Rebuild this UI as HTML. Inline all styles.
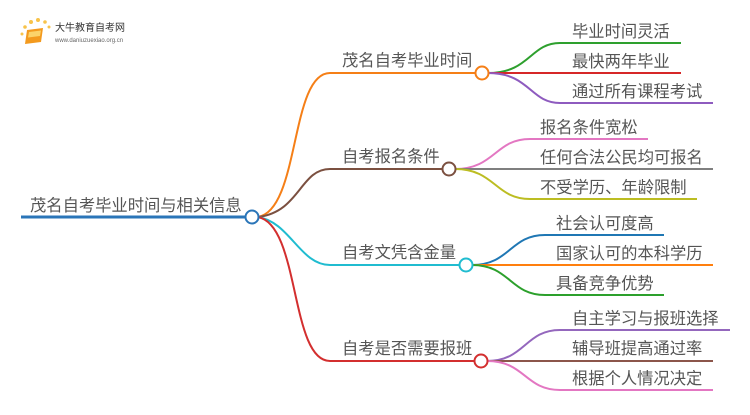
<!DOCTYPE html>
<html><head><meta charset="utf-8"><style>
body{margin:0;width:750px;height:410px;background:#fff;overflow:hidden}
svg text{font-family:"Liberation Sans","Noto Sans CJK SC",sans-serif;fill:#555}
</style></head><body>
<svg width="750" height="410" viewBox="0 0 750 410" xmlns="http://www.w3.org/2000/svg">
<!-- logo -->
<g>
<circle cx="22" cy="34" r="1.5" fill="#f8c34a"/><circle cx="25" cy="27" r="1.8" fill="#f8c34a"/><circle cx="31" cy="22" r="2" fill="#f8c34a"/><circle cx="38" cy="20" r="2" fill="#f8c34a"/><circle cx="45" cy="22" r="1.8" fill="#f8c34a"/><circle cx="49" cy="27" r="1.5" fill="#f8c34a"/>
<path d="M27 30 L43 28 L41 42 L25 44 Z" fill="#f39a1e"/>
<path d="M29 32 L41 30.5 L40 36 L28 37.5Z" fill="#fbd36a"/>
<text x="55" y="31" font-size="10" style="fill:#333">大牛教育自考网</text>
<text x="55" y="42" font-size="6" style="fill:#666">www.daniuzuexiao.org.cn</text>
</g>
<g fill="none" stroke-width="2">
<line x1="21" y1="217" x2="246" y2="217" stroke="#2a75b8" stroke-width="3"/>
<path d="M258 217 C300 210 290 73 330 73 L476 73" stroke="#f57f17"/>
<path d="M258 217 C300 212 300 169 330 169 L443 169" stroke="#7b5040"/>
<path d="M258 217 C290 222 300 265 330 265 L460 265" stroke="#20bcd0"/>
<path d="M258 217 C300 225 290 361 330 361 L475 361" stroke="#d32f2f"/>
<path d="M488 73 C530 73 530 43 560 43 L681 43" stroke="#2ea02e"/>
<path d="M488 73 L681 73" stroke="#d62728"/>
<path d="M488 73 C530 73 530 103 560 103 L713 103" stroke="#8e5bbf"/>
<path d="M455 169 C495 169 495 139 530 139 L648 139" stroke="#e377c2"/>
<path d="M455 169 L713 169" stroke="#7f7f7f"/>
<path d="M455 169 C495 169 495 199 530 199 L697 199" stroke="#bcbd22"/>
<path d="M472 265 C510 265 510 235 545 235 L664 235" stroke="#1f77b4"/>
<path d="M472 265 L713 265" stroke="#ff7f0e"/>
<path d="M472 265 C510 265 510 295 545 295 L664 295" stroke="#2ca02c"/>
<path d="M487 361 C525 361 525 330 560 330 L730 330" stroke="#9467bd"/>
<path d="M487 361 L713 361" stroke="#8c564b"/>
<path d="M487 361 C525 361 525 390 560 390 L713 390" stroke="#e377c2"/>
</g>
<g fill="#fff" stroke-width="2">
<circle cx="252" cy="217" r="6.5" stroke="#2a75b8"/>
<circle cx="482" cy="73" r="6.5" stroke="#f57f17"/>
<circle cx="449" cy="169" r="6.5" stroke="#7b5040"/>
<circle cx="466" cy="265" r="6.5" stroke="#20bcd0"/>
<circle cx="481" cy="361" r="6.5" stroke="#d32f2f"/>
</g>
<text x="30" y="211" font-size="16.3">茂名自考毕业时间与相关信息</text>
<g font-size="16.3">
<text x="342" y="66">茂名自考毕业时间</text>
<text x="342" y="162">自考报名条件</text>
<text x="342" y="258">自考文凭含金量</text>
<text x="342" y="354">自考是否需要报班</text>
<text x="572" y="37">毕业时间灵活</text>
<text x="572" y="67">最快两年毕业</text>
<text x="572" y="97">通过所有课程考试</text>
<text x="540" y="133">报名条件宽松</text>
<text x="540" y="163">任何合法公民均可报名</text>
<text x="540" y="193">不受学历、年龄限制</text>
<text x="556" y="229">社会认可度高</text>
<text x="556" y="259">国家认可的本科学历</text>
<text x="556" y="289">具备竞争优势</text>
<text x="572" y="324">自主学习与报班选择</text>
<text x="572" y="354">辅导班提高通过率</text>
<text x="572" y="384">根据个人情况决定</text>
</g>
</svg>
</body></html>
